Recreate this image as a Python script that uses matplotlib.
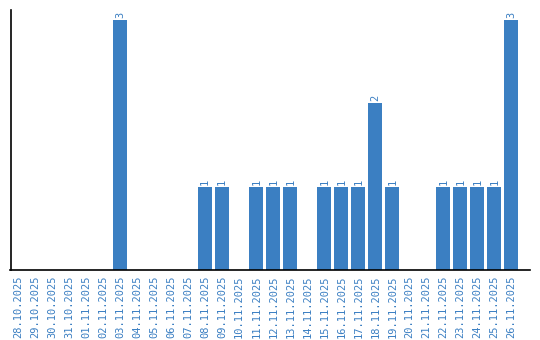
import matplotlib
matplotlib.use("Agg")
import matplotlib.pyplot as plt

# Daily counts, 28.10.2025 - 26.11.2025
dates = ["28.10.2025", "29.10.2025", "30.10.2025", "31.10.2025", "01.11.2025",
         "02.11.2025", "03.11.2025", "04.11.2025", "05.11.2025", "06.11.2025",
         "07.11.2025", "08.11.2025", "09.11.2025", "10.11.2025", "11.11.2025",
         "12.11.2025", "13.11.2025", "14.11.2025", "15.11.2025", "16.11.2025",
         "17.11.2025", "18.11.2025", "19.11.2025", "20.11.2025", "21.11.2025",
         "22.11.2025", "23.11.2025", "24.11.2025", "25.11.2025", "26.11.2025"]
counts = [0, 0, 0, 0, 0, 0, 3, 0, 0, 0,
          0, 1, 1, 0, 1, 1, 1, 0, 1, 1,
          1, 2, 1, 0, 0, 1, 1, 1, 1, 3]

blue = "#3b7fc2"

fig = plt.figure(figsize=(5.4, 3.4), dpi=100)
ax = fig.add_axes([10.5 / 540, 70 / 340, 519.5 / 540, 260 / 340])

x = list(range(len(dates)))
bars = ax.bar(x, counts, width=0.82, color=blue)

# value labels above non-empty bars
for xi, c in zip(x, counts):
    if c > 0:
        ax.annotate(str(c), (xi, c), xytext=(0, 1.5), textcoords="offset points",
                    ha="center", va="bottom", rotation=90, color=blue,
                    fontsize=7.5, family="DejaVu Sans Mono")

ax.set_xlim(-0.45, 30.1)
ax.set_ylim(0, 3.12)
ax.set_xticks(x)
ax.set_xticklabels(dates, rotation=90, color=blue, fontsize=7.5,
                   family="DejaVu Sans Mono")
ax.tick_params(axis="x", length=0, pad=4)
ax.set_yticks([])
for side in ["top", "right"]:
    ax.spines[side].set_visible(False)
ax.spines["left"].set_linewidth(1.2)
ax.spines["bottom"].set_linewidth(1.2)

fig.savefig("out.png", dpi=100)
